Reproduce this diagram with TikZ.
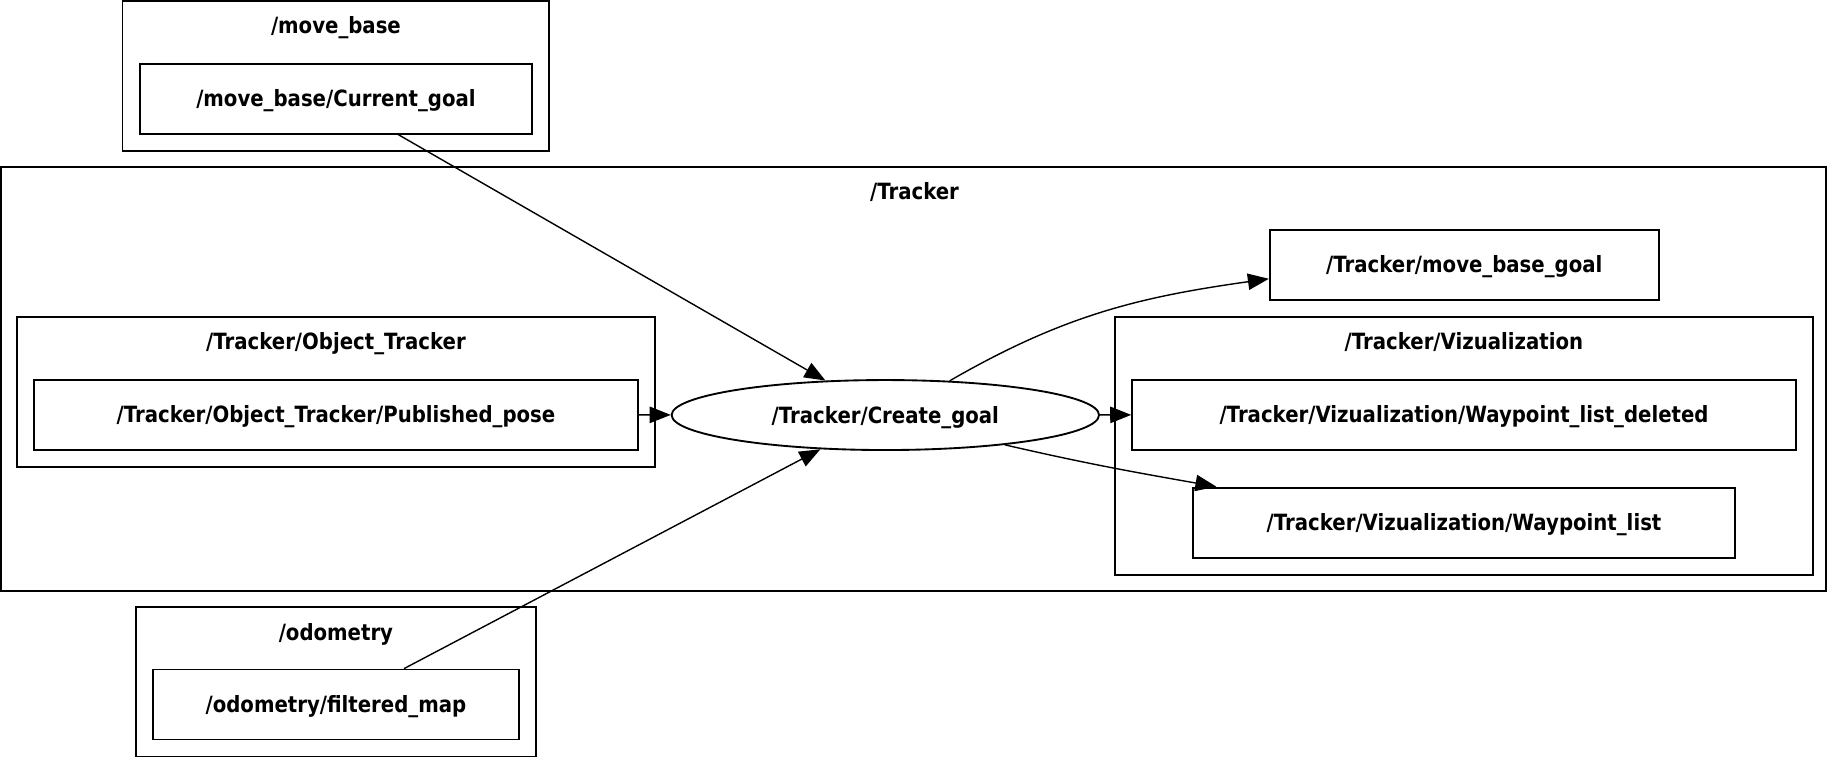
\documentclass[tikz,border=0pt]{standalone}
\usepackage{fontspec}
\setmainfont{DejaVu Sans}[FakeStretch=0.88]
\usetikzlibrary{arrows.meta,shapes.geometric}

\tikzstyle{topic}=[draw, line width=0.8pt, minimum height=30pt, inner sep=0pt, text height=7pt, text depth=0pt]
\tikzstyle{nodebox}=[draw, ellipse, line width=0.8pt, minimum height=30pt, inner sep=0pt, text height=7pt, text depth=0pt]
\tikzstyle{cluster}=[draw, line width=0.8pt, inner sep=0pt]
\tikzstyle{title}=[inner sep=0pt, text height=7pt, text depth=0pt]
\tikzstyle{dep}=[-{Triangle[length=9pt, width=7pt]}, line width=0.6pt]

\begin{document}
\begin{tikzpicture}[x=0.5pt, y=-0.5pt, font=\bfseries\fontsize{9.6}{11}\selectfont]
  \useasboundingbox (0,0) rectangle (1568,650);
  % namespaces
  \node[cluster, minimum width=183pt, minimum height=64.25pt] (move_base) at (288,65.25) {};
  \node[title] (move_base_t) at (288,21.4) {/move\_base};
  \node[cluster, minimum width=782.25pt, minimum height=181.8pt] (tracker) at (783.25,324.8) {};
  \node[title] (tracker_t) at (784,164) {/Tracker};
  \node[cluster, minimum width=273.5pt, minimum height=64.25pt] (object_tracker) at (288,335.75) {};
  \node[title] (object_tracker_t) at (288,293) {/Tracker/Object\_Tracker};
  \node[cluster, minimum width=299pt, minimum height=110.75pt] (vizualization) at (1255,382.25) {};
  \node[title] (vizualization_t) at (1255,292.5) {/Tracker/Vizualization};
  \node[cluster, minimum width=171.5pt, minimum height=64.25pt] (odometry) at (288,584.25) {};
  \node[title] (odometry_t) at (288,542.5) {/odometry};
  % topics and node
  \node[topic, minimum width=168pt] (current_goal) at (288,84.6) {/move\_base/Current\_goal};
  \node[topic, minimum width=259pt] (published_pose) at (288,355.5) {/Tracker/Object\_Tracker/Published\_pose};
  \node[nodebox, minimum width=183.2pt] (create_goal) at (759,355.8) {/Tracker/Create\_goal};
  \node[topic, minimum width=166.7pt] (move_base_goal) at (1255.3,227) {/Tracker/move\_base\_goal};
  \node[topic, minimum width=284.5pt] (waypoint_list_deleted) at (1255.1,355.5) {/Tracker/Vizualization/Waypoint\_list\_deleted};
  \node[topic, minimum width=232.5pt] (waypoint_list) at (1255.1,448) {/Tracker/Vizualization/Waypoint\_list};
  \node[topic, minimum width=157pt] (filtered_map) at (288,604) {/odometry/filtered\_map};
  % edges
  \draw[dep] (current_goal) -- (create_goal);
  \draw[dep] (filtered_map) -- (create_goal);
  \draw[dep] (published_pose) -- (create_goal);
  \draw[dep] (create_goal) -- (waypoint_list_deleted);
  \draw[dep] (create_goal.28) to[out=30, in=188] ([yshift=-6pt]move_base_goal.west);
  \draw[dep] (create_goal.-14) to[out=-13, in=170] ([xshift=10.5pt]waypoint_list.north west);
\end{tikzpicture}
\end{document}
